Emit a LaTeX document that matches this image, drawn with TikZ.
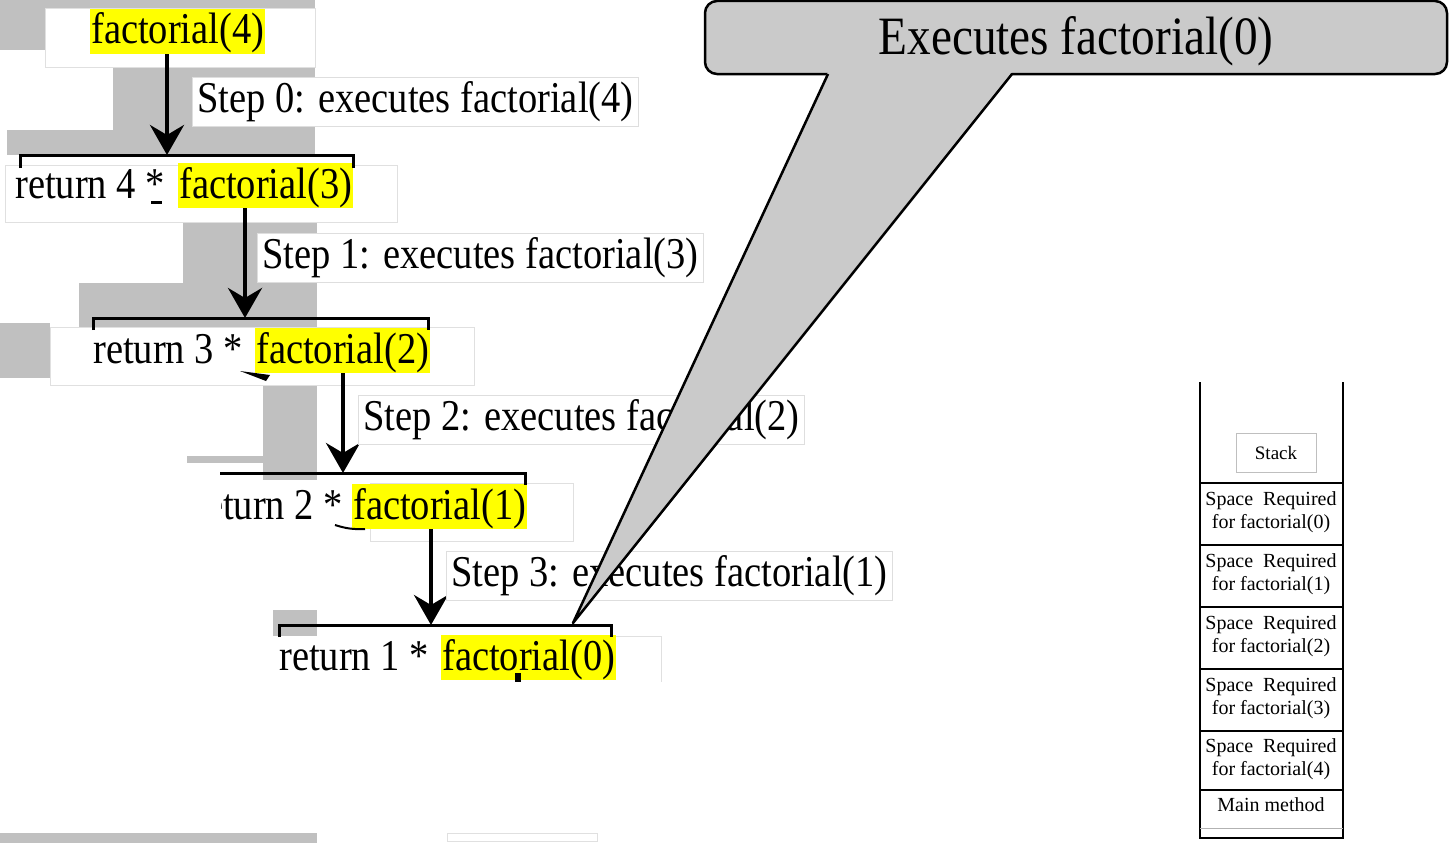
\documentclass[tikz,border=0pt]{standalone}
\usepackage{fontspec}
\setmainfont{Liberation Serif}
\newfontfamily\wideserif[FakeStretch=0.875]{Liberation Serif}
\usetikzlibrary{arrows.meta}
\definecolor{patch}{RGB}{192,192,192}
\definecolor{callfill}{RGB}{202,202,202}
\definecolor{hlyellow}{RGB}{255,255,0}
\begin{document}
\begin{tikzpicture}[x=1pt,y=-1pt,
  big/.style={font=\wideserif\fontsize{44}{48}\selectfont},
  hl/.style={big, fill=hlyellow, inner xsep=1pt, inner ysep=0pt, text height=35pt, text depth=10pt, anchor=base west},
  ret/.style={big, inner sep=0pt, anchor=base west},
  stepbox/.style={big, draw=black!13, line width=0.8pt, fill=white, inner xsep=5pt, inner ysep=0pt, text height=35pt, text depth=14pt, anchor=base west},
  arr/.style={line width=4pt, -{Stealth[length=30pt,width=34pt,inset=10pt]}},
  brk/.style={line width=3pt},
  wbox/.style={draw=black!12, fill=white, line width=0.8pt},
  stk/.style={line width=2.5pt},
  cell/.style={font=\fontsize{20}{23}\selectfont, align=center, inner sep=0pt},
  pointer/.style={line width=2.5pt, line join=round}
]
\useasboundingbox (0,0) rectangle (1450,843);

% grey background patches
\fill[patch] (0,0) rectangle (315,8);
\fill[patch] (0,0) rectangle (45,50);
\fill[patch] (113,67) rectangle (315,155);
\fill[patch] (7,130) rectangle (315,155);
\fill[patch] (183,222) rectangle (317,327);
\fill[patch] (79,283) rectangle (317,327);
\fill[patch] (0,323) rectangle (50,378);
\fill[patch] (263,385) rectangle (317,480);
\fill[patch] (187,456) rectangle (317,463);
\fill[patch] (273,610) rectangle (317,636);
\fill[patch] (0,833) rectangle (317,843);

% white boxes behind the text lines
\draw[wbox] (45,8) rectangle (315,67);
\draw[wbox] (5,165) rectangle (397,222);
\draw[wbox] (50,327) rectangle (474,385);
\draw[wbox] (370,483) rectangle (573,541);
\fill[white] (447,636) rectangle (661,682);
\draw[black!12, line width=0.8pt] (447,636) -- (661,636) -- (661,682);
\draw[wbox] (447,833) rectangle (597,841);

% text lines
\node[hl] (f4) at (90,44) {factorial(4)};

\node[ret] (r4) at (15,198) {return 4 *};
\node[hl] (f3) at (178,198) {factorial(3)};

\node[ret] (r3) at (93,363) {return 3 *};
\node[hl] (f2) at (255,363) {factorial(2)};

\begin{scope}
  \clip (221,470) rectangle (352,545);
  \node[ret] (r2) at (193,519) {return 2 *};
\end{scope}
\node[hl] (f1) at (352,519) {factorial(1)};

\node[ret] (r1) at (279,670) {return 1 *};
\node[hl] (f0) at (441,670) {factorial(0)};

% small remnants
\fill (151,201) rectangle (162,204);
\fill (240,371) -- (270,375) -- (266,381) -- cycle;
\draw[line width=2pt] (335,525) to[bend right=10] (365,529);
\fill (515,673) rectangle (521,682);

% brackets
\coordinate (b1l) at (20,155);  \coordinate (b1r) at (353,155); \coordinate (b1m) at (167,155);
\coordinate (b2l) at (93,318);  \coordinate (b2r) at (428,318); \coordinate (b2m) at (245,318);
\coordinate (b3l) at (220,473); \coordinate (b3r) at (525,473); \coordinate (b3m) at (343,473);
\coordinate (b4l) at (279,625); \coordinate (b4r) at (611,625); \coordinate (b4m) at (431,625);
\draw[brk] (b1l) ++(0,13) -- (b1l) -- (b1r) -- ++(0,13);
\draw[brk] (b2l) ++(0,12) -- (b2l) -- (b2r) -- ++(0,12);
\draw[brk] (b3l) -- (b3r) -- ++(0,12);
\draw[brk] (b4l) ++(0,12) -- (b4l) -- (b4r) -- ++(0,12);

% arrows
\draw[arr] (f4.south -| b1m) -- (b1m);
\draw[arr] (f3.south -| b2m) -- (b2m);
\draw[arr] (f2.south -| b3m) -- (b3m);
\draw[arr] (f1.south -| b4m) -- (b4m);

% step labels
\node[stepbox] (s0) at (192,112) {Step 0: executes factorial(4)};
\node[stepbox] (s1) at (257,268) {Step 1: executes factorial(3)};
\node[stepbox] (s2) at (358,430) {Step 2: executes factorial(2)};
\node[stepbox] (s3) at (446,586) {Step 3: executes factorial(1)};

% callout
\node[draw, fill=callfill, rounded corners=12pt, line width=2.5pt,
      minimum width=742pt, minimum height=73pt, inner sep=0pt,
      text height=35pt, text depth=0pt,
      font=\wideserif\fontsize{54}{58}\selectfont] (callout) at (1076,37.5) {Executes factorial(0)};
\coordinate (tip) at (573,623);
\coordinate (pl) at (828,74);
\coordinate (pr) at (1012,74);
\fill[callfill] (tip) -- (828,72) -- (1012,72) -- cycle;
\draw[pointer] (pl) -- (tip) -- (pr);

% stack
\draw[stk] (1200,382) -- (1200,838) -- (1343,838) -- (1343,382);
\foreach \yy in {483,545,607,669,731,790} \draw[stk] (1200,\yy) -- (1343,\yy);
\draw[black!30, line width=0.8pt] (1200,828) -- (1343,828);
\node[draw=black!25, line width=0.8pt, minimum width=80pt, minimum height=39pt,
      font=\fontsize{19}{23}\selectfont] (stack) at (1276,452.5) {Stack};
\node[cell] (c0) at (1271,512) {Space\hspace{0.5em}Required\\for factorial(0)};
\node[cell] (c1) at (1271,574) {Space\hspace{0.5em}Required\\for factorial(1)};
\node[cell] (c2) at (1271,636) {Space\hspace{0.5em}Required\\for factorial(2)};
\node[cell] (c3) at (1271,698) {Space\hspace{0.5em}Required\\for factorial(3)};
\node[cell] (c4) at (1271,759) {Space\hspace{0.5em}Required\\for factorial(4)};
\node[cell] (mm) at (1271,805) {Main method};
\end{tikzpicture}
\end{document}
